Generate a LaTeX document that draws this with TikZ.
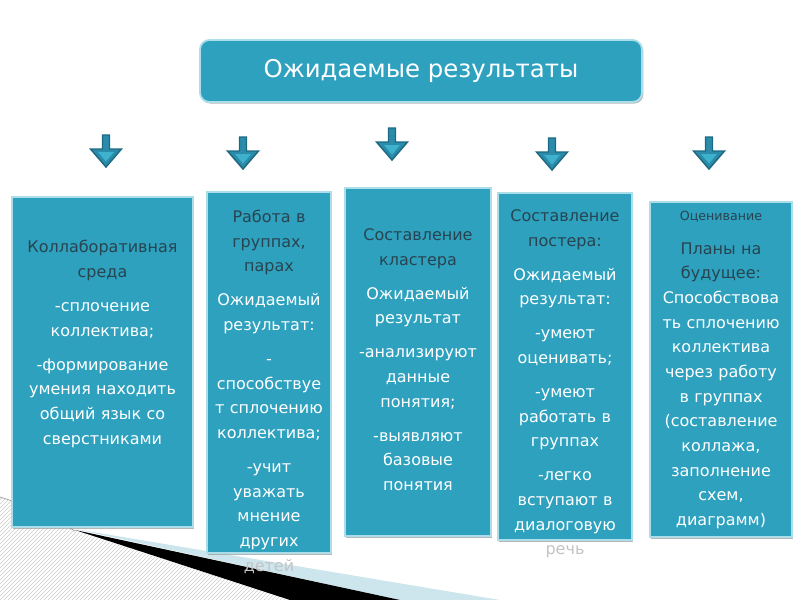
\documentclass[tikz,border=0pt]{standalone}
\usepackage{fontspec}
\setmainfont{DejaVu Sans}
\usetikzlibrary{positioning,shadows,patterns}
\definecolor{boxteal}{RGB}{46,161,191}
\definecolor{boxrim}{RGB}{172,222,234}
\definecolor{arrowdark}{RGB}{30,105,130}
\definecolor{arrowmid}{RGB}{42,140,170}
\definecolor{arrowlight}{RGB}{62,178,204}
\definecolor{headtext}{RGB}{40,68,80}
\definecolor{ghost}{RGB}{195,195,195}
\definecolor{bandblue}{RGB}{205,230,238}
\tikzset{
  resbox/.style={rectangle, fill=boxteal, draw=boxrim, line width=1.4pt, inner sep=0pt,
    drop shadow={shadow xshift=1pt, shadow yshift=-1.2pt, fill=black!40, opacity=0.7}},
  titlebox/.style={resbox, rounded corners=7pt, text=white, font=\fontsize{18.3}{22}\selectfont},
  boxtext/.style={inner sep=0pt, align=center, text=white, font=\fontsize{12}{18.5}\selectfont},
  arrowbody/.style={fill=arrowmid, draw=arrowdark, line width=1.1pt, line join=miter},
}
\begin{document}
\begin{tikzpicture}[x=0.75pt, y=-0.75pt]
  \useasboundingbox (0,0) rectangle (800,600);
  % slide decoration, bottom left
  \fill[pattern=north east lines, pattern color=gray!40] (0,497) .. controls (40,510) .. (75,531) -- (290,600) -- (0,600) -- cycle;
  \draw[gray!70, line width=0.6pt] (0,497) .. controls (40,510) .. (75,531);
  \fill[bandblue] (75,529) -- (500,600) -- (400,600) -- cycle;
  \fill[black] (75,530) -- (400,600) -- (290,600) -- cycle;
  % heading
  \node[titlebox, minimum width=331.5pt, minimum height=46.5pt] (title) at (421,71) {Ожидаемые результаты};
  % arrows
  \foreach \ax/\ay in {106/135, 243/137, 392/128, 552/138, 709/137} {
    \filldraw[arrowbody] (\ax-3.5,\ay) -- (\ax+3.5,\ay) -- (\ax+3.5,\ay+14) -- (\ax+15.5,\ay+14)
      -- (\ax,\ay+32) -- (\ax-15.5,\ay+14) -- (\ax-3.5,\ay+14) -- cycle;
    \fill[arrowlight] (\ax-8,\ay+17) -- (\ax+8,\ay+17) -- (\ax,\ay+26.5) -- cycle;
  }
  % boxes
  \node[resbox, minimum width=135.75pt, minimum height=247.5pt] (kollab) at (102.5,362) {};
  \node[resbox, minimum width=93pt, minimum height=270.75pt] (gruppy) at (269,372.5) {};
  \node[resbox, minimum width=109.5pt, minimum height=261pt] (klaster) at (418,362) {};
  \node[resbox, minimum width=100.5pt, minimum height=260.25pt] (poster) at (565,366.5) {};
  \node[resbox, minimum width=106.5pt, minimum height=251.25pt] (ocenka) at (721,369.5) {};
  % texts
  \node[boxtext, text width=132pt, below=33pt of kollab.north] (kollabtext) {%
    {\color{headtext}Коллаборативная\\среда}\\[7pt]
    -сплочение\\коллектива;\\[7pt]
    -формирование\\умения находить\\общий язык со\\сверстниками};
  \node[boxtext, text width=91pt, below=14pt of gruppy.north] (gruppytext) {%
    {\color{headtext}Работа в\\группах,\\парах}\\[7pt]
    Ожидаемый\\результат:\\[7pt]
    -\\способствуе\\т сплочению\\коллектива;\\[7pt]
    -учит\\уважать\\мнение\\других\\{\color{ghost}детей}};
  \node[boxtext, text width=107pt, below=31pt of klaster.north] (klastertext) {%
    {\color{headtext}Составление\\кластера}\\[7pt]
    Ожидаемый\\результат\\[7pt]
    -анализируют\\данные\\понятия;\\[7pt]
    -выявляют\\базовые\\понятия};
  \node[boxtext, text width=99pt, below=13pt of poster.north] (postertext) {%
    {\color{headtext}Составление\\постера:}\\[7pt]
    Ожидаемый\\результат:\\[7pt]
    -умеют\\оценивать;\\[7pt]
    -умеют\\работать в\\группах\\[7pt]
    -легко\\вступают в\\диалоговую\\{\color{ghost}речь}};
  \node[boxtext, text width=105pt, below=7pt of ocenka.north] (ocenkatext) {%
    {\color{headtext}\fontsize{9.5}{14}\selectfont Оценивание}\\[7pt]
    {\color{headtext}Планы на\\будущее:}\\
    Способствова\\ть сплочению\\коллектива\\через работу\\в группах\\(составление\\коллажа,\\заполнение\\схем,\\диаграмм)};
\end{tikzpicture}
\end{document}
